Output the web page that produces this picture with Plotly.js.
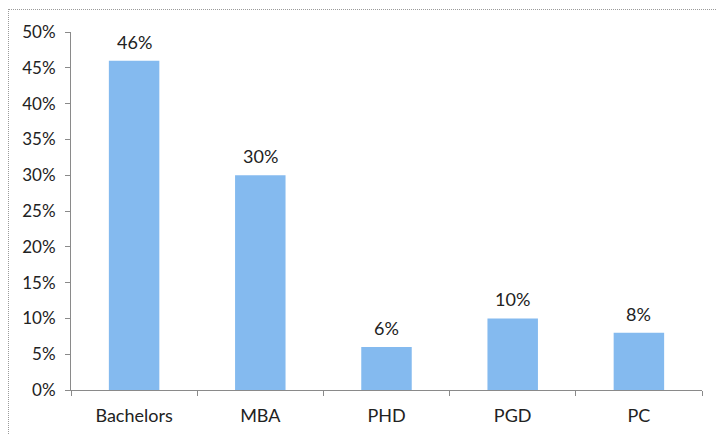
<!DOCTYPE html>
<html>
<head>
<meta charset="utf-8">
<script src="https://cdn.plot.ly/plotly-3.0.1.min.js"></script>
<style>
  html, body { margin: 0; padding: 0; background: #fff; }
  #wrap { position: relative; width: 716px; height: 434px; }
  #frame {
    position: absolute; left: 8px; top: 9px; right: -2px; bottom: -2px;
    border-top: 1px dotted #9a9a9a; border-left: 1px dotted #9a9a9a;
    pointer-events: none;
  }
  #chart { width: 716px; height: 434px; }
</style>
</head>
<body>
<div id="wrap">
  <div id="chart"></div>
  <div id="frame"></div>
</div>
<script>
// Share of respondents by qualification (percent)
const categories = ["Bachelors", "MBA", "PHD", "PGD", "PC"];
const shares = [46, 30, 6, 10, 8];
const yTicks = [0, 5, 10, 15, 20, 25, 30, 35, 40, 45, 50];

const barColor = "#84BAEF";
const axisColor = "#8a8a8a";
const fontFamily = "Lato, 'Open Sans', sans-serif";
const textColor = "#222";

const trace = {
  type: "bar",
  x: categories,
  y: shares,
  marker: { color: barColor, line: { width: 0 } },
  hoverinfo: "skip"
};

const labels = categories.map((c, i) => ({
  x: c,
  y: shares[i],
  xref: "x",
  yref: "y",
  text: shares[i] + "%",
  showarrow: false,
  yanchor: "bottom",
  yshift: 6,
  font: { family: fontFamily, size: 18, color: textColor }
}));

const layout = {
  width: 716,
  height: 434,
  margin: { l: 71, r: 14, t: 32, b: 44 },
  paper_bgcolor: "#ffffff",
  plot_bgcolor: "#ffffff",
  showlegend: false,
  bargap: 0.6,
  font: { family: fontFamily, size: 18, color: textColor },
  xaxis: {
    type: "category",
    showline: true,
    linecolor: axisColor,
    linewidth: 1,
    ticks: "outside",
    tickson: "boundaries",
    ticklen: 5,
    tickcolor: axisColor,
    showgrid: false,
    zeroline: false,
    ticklabelstandoff: 9,
    tickfont: { family: fontFamily, size: 18, color: textColor }
  },
  yaxis: {
    range: [0, 50],
    tickvals: yTicks,
    ticktext: yTicks.map(v => v + "%"),
    showline: true,
    linecolor: axisColor,
    linewidth: 1,
    ticks: "outside",
    ticklen: 5,
    tickcolor: axisColor,
    showgrid: false,
    zeroline: false,
    ticklabelstandoff: 6,
    tickfont: { family: fontFamily, size: 17, color: textColor }
  },
  annotations: labels
};

Plotly.newPlot("chart", [trace], layout, { displayModeBar: false, staticPlot: true });
</script>
</body>
</html>
